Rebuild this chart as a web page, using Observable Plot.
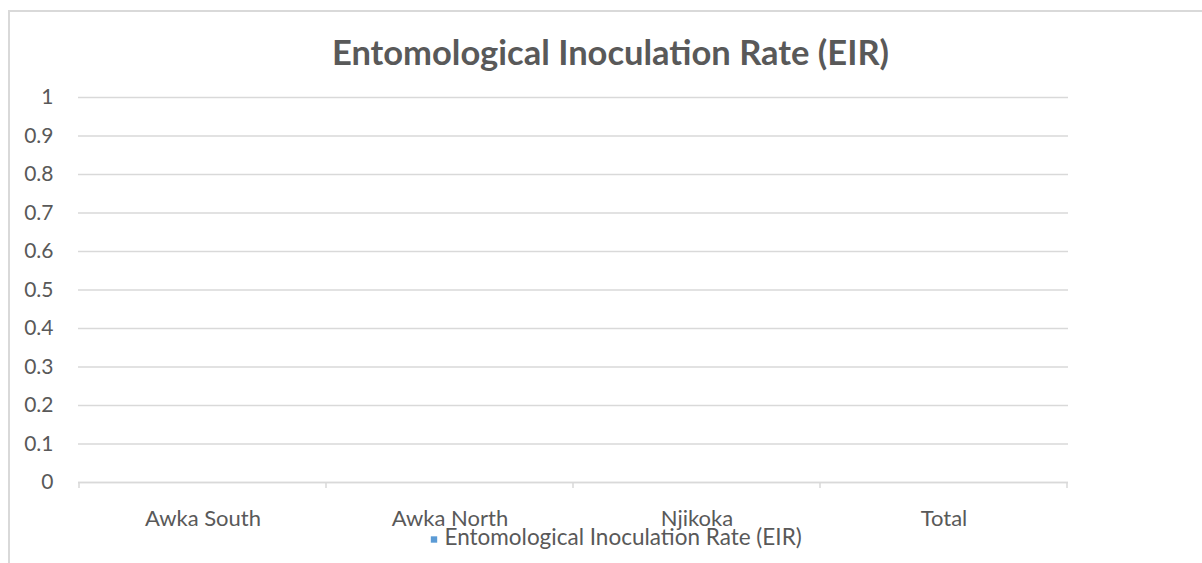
<!DOCTYPE html>
<html><head><meta charset="utf-8">
<script src="https://cdn.jsdelivr.net/npm/d3@7"></script>
<script src="https://cdn.jsdelivr.net/npm/@observablehq/plot@0.6"></script>
<style>
html,body{margin:0;padding:0;background:#fff;}
#wrap{position:relative;width:1202px;height:563px;overflow:hidden;font-family:Lato,"Open Sans",sans-serif;}
#frame{position:absolute;left:8px;top:10px;width:1300px;height:700px;border-top:2px solid #d9d9d9;border-left:2px solid #d9d9d9;}
#chart{position:absolute;left:0;top:0;}
</style></head>
<body><div id="wrap"><div id="frame"></div><div id="chart"></div></div>
<script>
const title = "Entomological Inoculation Rate (EIR)";
const seriesName = "Entomological Inoculation Rate (EIR)";
const categories = ["Awka South", "Awka North", "Njikoka", "Total"];
const values = [0, 0, 0, 0];
const yTicks = [0, 0.1, 0.2, 0.3, 0.4, 0.5, 0.6, 0.7, 0.8, 0.9, 1];

const data = categories.map((c, i) => ({category: c, value: values[i]}));
const textColor = "#595959";
const gridColor = "#d9d9d9";
const barColor = "#5b9bd5";

function boundaries(index, scales, values, dimensions) {
  const x = scales.x, bw = x.bandwidth();
  const y0 = scales.y(0);
  const xs = categories.map(c => x(c)).concat([x(categories[categories.length - 1]) + bw]);
  const g = d3.create("svg:g");
  g.selectAll("line").data(xs).join("line")
    .attr("x1", d => d).attr("x2", d => d)
    .attr("y1", y0).attr("y2", y0 + 6)
    .attr("stroke", gridColor).attr("stroke-width", 1.5);
  return g.node();
}

const plot = Plot.plot({
  width: 1202,
  height: 563,
  marginLeft: 78,
  marginRight: 134,
  marginTop: 97,
  marginBottom: 81,
  style: {fontFamily: "Lato, 'Open Sans', sans-serif", color: textColor, background: "transparent", overflow: "visible"},
  x: {domain: categories, padding: 0, label: null},
  y: {domain: [0, 1], label: null},
  marks: [
    Plot.gridY(yTicks, {stroke: gridColor, strokeOpacity: 1, strokeWidth: 1.5}),
    Plot.axisY(yTicks, {tickSize: 0, tickPadding: 25, fontSize: 21, fill: textColor, tickFormat: d => String(d), label: null}),
    Plot.axisX({tickSize: 0, tickPadding: 28, fontSize: 22, fill: textColor, label: null}),
    Plot.barY(data, {x: "category", y: "value", fill: barColor, insetLeft: 60, insetRight: 60}),
    Plot.ruleY([0], {stroke: gridColor, strokeWidth: 1.5}),
    boundaries,
    Plot.text([title], {frameAnchor: "top", dx: 37, dy: -57, fontSize: 34.5, fontWeight: "bold", fill: textColor}),
    Plot.dot([seriesName], {frameAnchor: "bottom", dx: -139.5, dy: 57, symbol: "square", r: 3.6, fill: barColor, stroke: "none"}),
    Plot.text([seriesName], {frameAnchor: "bottom", dx: -129, dy: 62, textAnchor: "start", fontSize: 22.5, fill: textColor})
  ]
});
document.getElementById("chart").appendChild(plot);
</script></body></html>
